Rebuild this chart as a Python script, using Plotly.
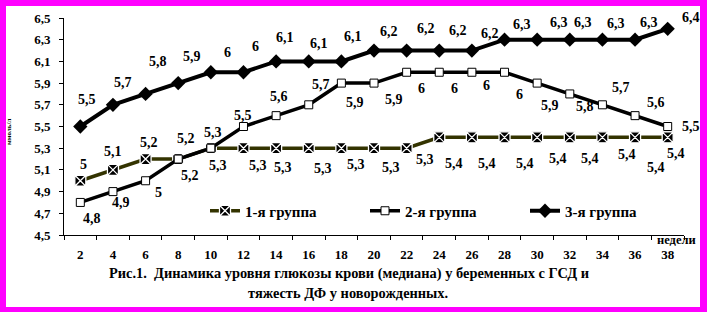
import plotly.graph_objects as go

# ---- data ----
weeks = [2, 4, 6, 8, 10, 12, 14, 16, 18, 20, 22, 24, 26, 28, 30, 32, 34, 36, 38]
group1 = [5.0, 5.1, 5.2, 5.2, 5.3, 5.3, 5.3, 5.3, 5.3, 5.3, 5.3, 5.4, 5.4, 5.4, 5.4, 5.4, 5.4, 5.4, 5.4]
group2 = [4.8, 4.9, 5.0, 5.2, 5.3, 5.5, 5.6, 5.7, 5.9, 5.9, 6.0, 6.0, 6.0, 6.0, 5.9, 5.8, 5.7, 5.6, 5.5]
group3 = [5.5, 5.7, 5.8, 5.9, 6.0, 6.0, 6.1, 6.1, 6.1, 6.2, 6.2, 6.2, 6.2, 6.3, 6.3, 6.3, 6.3, 6.3, 6.4]
series_names = ["1-я группа", "2-я группа", "3-я группа"]
y_ticks = [4.5, 4.7, 4.9, 5.1, 5.3, 5.5, 5.7, 5.9, 6.1, 6.3, 6.5]
caption1 = "Рис.1.  Динамика уровня глюкозы крови (медиана) у беременных с ГСД и"
caption2 = "тяжесть ДФ у новорожденных."
x_unit = "недели"
y_unit = "ммоль/л"

# ---- label placement (pixel shifts, style only) ----
off1 = [(3, 16), (0, 18), (3, 17), (8, 21), (7, -17), (15, -17), (7, -19), (14, -20), (15, -16), (17, -19),
        (18, -11), (15, -26), (15, -26), (20, -26), (21, -21), (20, -21), (25, -17), (21, -30), (8, -16)]
off2 = [(12, -16), (8, -11), (13, -12), (12, -16), (2, 16), (0, 11), (3, 19), (12, 20), (14, -19), (20, -16),
        (15, -16), (15, -16), (15, -13), (15, -22), (13, -22), (15, -13), (19, 17), (21, 13), (23, 0)]
off3 = [(7, 27), (10, 22), (12, 32), (14, 27), (17, 20), (12, 26), (9, 24), (10, 18), (12, 25), (15, 19),
        (19, 22), (19, 20), (18, 17), (17, 15), (22, 17), (13, 17), (14, 16), (14, 17), (23, 11)]

FONT = "Liberation Serif"
W, H = 707, 312
L, R, T, B = 64, 23, 18, 77
PW, PH = W - L - R, H - T - B


def px2paper_x(px):
    return (px - L) / PW


def px2paper_y(py):
    return (H - B - py) / PH


def fmt(v):
    return f"{v:g}".replace(".", ",")


def bf(size):
    return dict(family=FONT, size=size, color="black", weight="bold")


fig = go.Figure()
x_cat = [str(w) for w in weeks]

fig.add_trace(go.Scatter(
    x=x_cat, y=group1, name=series_names[0], mode="lines+markers",
    line=dict(color="#333300", width=3.5),
    marker=dict(symbol="square-x", size=11, color="black", line=dict(color="white", width=1.3)),
))
fig.add_trace(go.Scatter(
    x=x_cat, y=group2, name=series_names[1], mode="lines+markers",
    line=dict(color="black", width=3.5),
    marker=dict(symbol="square", size=8, color="white", line=dict(color="black", width=1)),
))
fig.add_trace(go.Scatter(
    x=x_cat, y=group3, name=series_names[2], mode="lines+markers",
    line=dict(color="black", width=4),
    marker=dict(symbol="diamond", size=11, color="black", line=dict(color="black", width=0)),
))

annotations = []
for vals, offs in ((group1, off1), (group2, off2), (group3, off3)):
    for i, (v, (dx, dy)) in enumerate(zip(vals, offs)):
        annotations.append(dict(
            x=i, y=v, xref="x", yref="y", text=fmt(v), showarrow=False,
            xshift=dx, yshift=dy, font=bf(14),
        ))

annotations += [
    dict(x=px2paper_x(349), y=px2paper_y(273), xref="paper", yref="paper", text=caption1,
         showarrow=False, xanchor="center", yanchor="middle", font=bf(14.4)),
    dict(x=px2paper_x(348), y=px2paper_y(293), xref="paper", yref="paper", text=caption2,
         showarrow=False, xanchor="center", yanchor="middle", font=bf(14.4)),
    dict(x=px2paper_x(676), y=px2paper_y(240), xref="paper", yref="paper", text=x_unit,
         showarrow=False, xanchor="center", yanchor="middle", font=bf(12.5)),
    dict(x=px2paper_x(9), y=px2paper_y(132), xref="paper", yref="paper", text=y_unit,
         showarrow=False, xanchor="center", yanchor="middle", textangle=-90, font=bf(7)),
]

shapes = [
    dict(type="rect", xref="paper", yref="paper", layer="below",
         x0=px2paper_x(6), x1=px2paper_x(700), y0=px2paper_y(307), y1=px2paper_y(6),
         fillcolor="white", line=dict(width=0)),
]

fig.update_layout(
    width=W, height=H,
    margin=dict(l=L, r=R, t=T, b=B, pad=0),
    paper_bgcolor="#FF00FF", plot_bgcolor="white",
    separators=", ",
    font=bf(13),
    showlegend=True,
    legend=dict(orientation="h", x=px2paper_x(205), xanchor="left",
                y=px2paper_y(211), yanchor="middle",
                bgcolor="rgba(0,0,0,0)", borderwidth=0,
                entrywidth=115, entrywidthmode="pixels",
                font=bf(15)),
    xaxis=dict(type="category", range=[-0.5, len(weeks) - 0.5], autorange=False,
               showgrid=False, zeroline=False,
               showline=True, linecolor="black", linewidth=1,
               ticks="outside", tickson="boundaries", ticklen=4, tickcolor="black",
               tickfont=bf(13), ticklabelstandoff=7, fixedrange=True),
    yaxis=dict(range=[4.5, 6.5], autorange=False, tickvals=y_ticks, tickformat=".1f",
               showgrid=False, zeroline=False,
               showline=True, linecolor="black", linewidth=1,
               ticks="outside", ticklen=4, tickcolor="black",
               tickfont=bf(13), ticklabelstandoff=6, fixedrange=True),
    annotations=annotations,
    shapes=shapes,
)

fig.write_html("out.html")
